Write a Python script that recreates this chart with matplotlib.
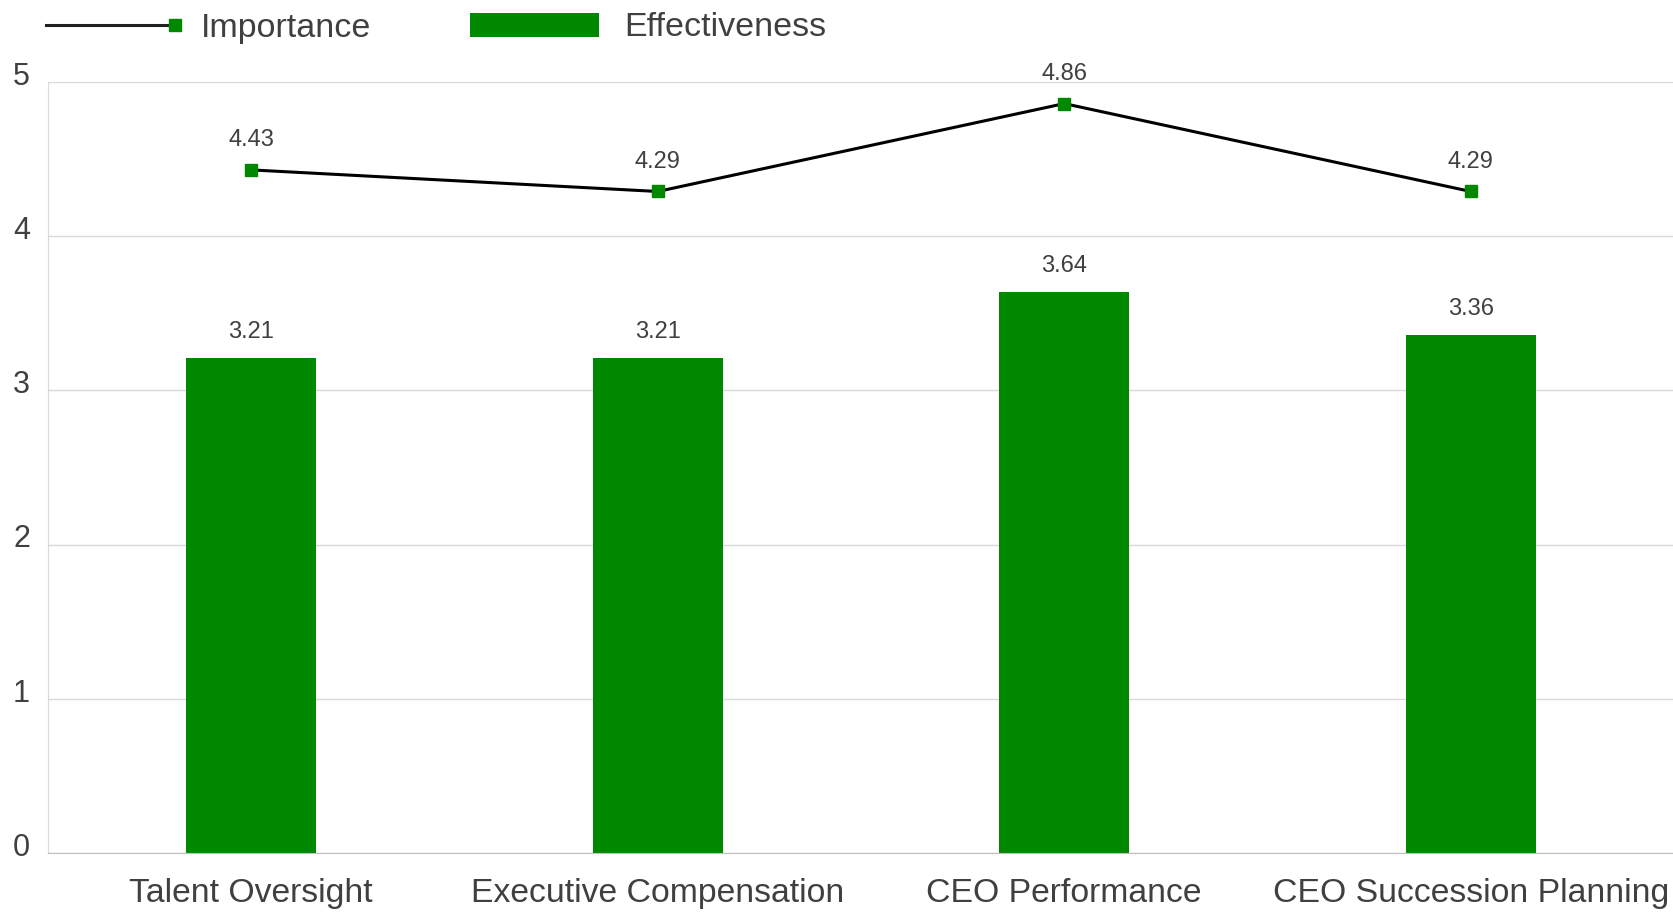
import numpy as np
import matplotlib
matplotlib.use("Agg")
import matplotlib.pyplot as plt
from matplotlib.lines import Line2D
from matplotlib.patches import Patch
from matplotlib.legend_handler import HandlerLine2D
from matplotlib.transforms import ScaledTranslation

# Datos
categorias = ["Talent Oversight", "Executive Compensation", "CEO Performance", "CEO Succession Planning"]
importancia = [4.43, 4.29, 4.86, 4.29]
efectividad = [3.21, 3.21, 3.64, 3.36]
y_ticks = [0, 1, 2, 3, 4, 5]

verde = "#008800"
texto = "#404040"

plt.rcParams["font.family"] = ["Liberation Sans", "DejaVu Sans"]


class HandlerMarcadorFinal(HandlerLine2D):
    """Linea de leyenda con el marcador al final (como en Excel)."""
    def create_artists(self, legend, orig_handle, xdescent, ydescent, width, height, fontsize, trans):
        artistas = super().create_artists(legend, orig_handle, xdescent, ydescent, width, height, fontsize, trans)
        linea = artistas[0]
        linea.set_markevery([len(linea.get_xdata()) - 1])
        return artistas


fig = plt.figure(figsize=(16.74, 9.14), dpi=100)
ax = fig.add_axes([48 / 1674, 61 / 914, 1 - 48 / 1674, 771 / 914])

x = np.arange(len(categorias))
ax.bar(x, efectividad, width=0.32, color=verde, zorder=2)
ax.plot(x, importancia, color="black", lw=2.2, marker="s", markersize=9,
        markerfacecolor=verde, markeredgecolor=verde, zorder=3)

# Etiquetas de valores
for xi, v in zip(x, efectividad):
    ax.annotate(f"{v:.2f}", (xi, v), xytext=(0, 18.5), textcoords="offset points",
                ha="center", va="center", fontsize=17, color=texto)
for xi, v in zip(x, importancia):
    ax.annotate(f"{v:.2f}", (xi, v), xytext=(0, 21.5), textcoords="offset points",
                ha="center", va="center", fontsize=17, color=texto, annotation_clip=False)

ax.set_xlim(-0.5, len(categorias) - 0.5)
ax.set_ylim(0, 5)
ax.set_yticks(y_ticks)
ax.set_xticks(x)
ax.set_xticklabels(categorias)
ax.tick_params(axis="x", length=0, pad=18, labelsize=24.3, labelcolor=texto)
ax.tick_params(axis="y", length=0, pad=13, labelsize=22, labelcolor=texto)
desplazar = ScaledTranslation(0, -2 / 72, fig.dpi_scale_trans)
for lbl in ax.get_yticklabels():
    lbl.set_va("baseline")
    lbl.set_transform(lbl.get_transform() + desplazar)

ax.grid(axis="y", color="#d9d9d9", lw=1, zorder=0)
for s in ["top", "right"]:
    ax.spines[s].set_visible(False)
ax.spines["left"].set_color("#d9d9d9")
ax.spines["bottom"].set_color("#bfbfbf")

# Leyenda
h_linea = Line2D([], [], color="#202020", lw=2.2, marker="s", markersize=9,
                 markerfacecolor=verde, markeredgecolor=verde)
h_barra = Patch(facecolor=verde)
fig.legend([h_linea, h_barra], ["Importance", "Effectiveness"],
           handler_map={h_linea: HandlerMarcadorFinal(numpoints=1)},
           loc="center left", bbox_to_anchor=(46 / 1674, 1 - 28 / 914), ncol=2,
           frameon=False, fontsize=24.5, labelcolor=texto, borderpad=0, borderaxespad=0,
           handlelength=3.8, handletextpad=0.75, columnspacing=2.9)

fig.savefig("out.png", dpi=100)
